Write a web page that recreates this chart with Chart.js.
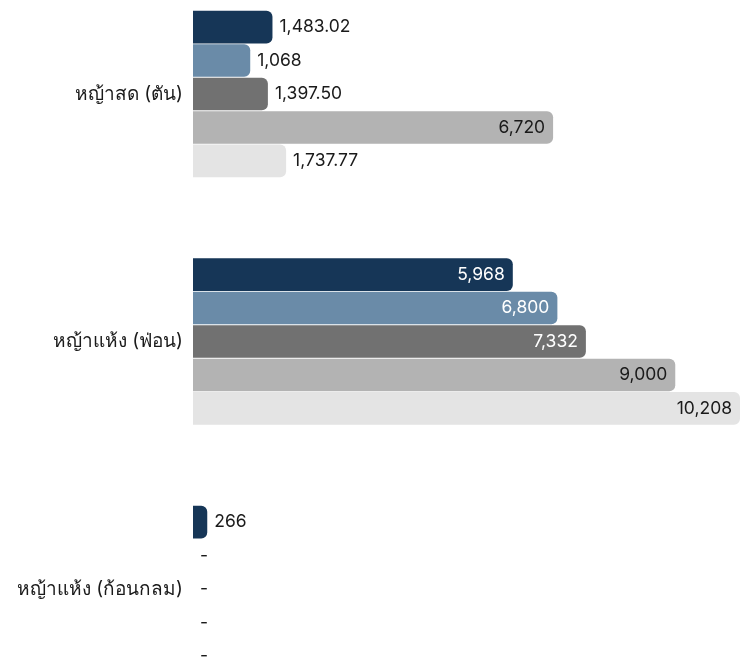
<!DOCTYPE html>
<html lang="th">
<head>
<meta charset="UTF-8"/>
<title>หญ้า</title>
<script src="https://cdn.jsdelivr.net/npm/chart.js@4.4.2/dist/chart.umd.min.js"></script>
<style>
html,body{margin:0;padding:0;background:#fff}
#wrap{width:740px;height:659px;position:relative}
</style>
</head>
<body>
<div id="wrap"><canvas id="chart"></canvas></div>
<script>
const categories=["หญ้าสด (ตัน)","หญ้าแห้ง (ฟ่อน)","หญ้าแห้ง (ก้อนกลม)"];
const series1=[1483.02,5968,266];
const series2=[1068,6800,null];
const series3=[1397.5,7332,null];
const series4=[6720,9000,null];
const series5=[1737.77,10208,null];
const colors=["#163657","#6a8ba8","#717171","#b3b3b3","#e4e4e4"];
const insideText=["#ffffff","#ffffff","#ffffff","#1a1a1a","#1a1a1a"];
const FONT="Inter, 'Noto Sans', sans-serif";

const fmt=v=>v.toLocaleString("en-US",Number.isInteger(v)?{maximumFractionDigits:0}:{minimumFractionDigits:2,maximumFractionDigits:2});

const valueLabels={
  id:"valueLabels",
  afterDatasetsDraw(chart){
    const ctx=chart.ctx, area=chart.chartArea;
    ctx.save();
    ctx.font="17.5px "+FONT;
    ctx.textBaseline="middle";
    chart.data.datasets.forEach((ds,di)=>{
      chart.getDatasetMeta(di).data.forEach((bar,i)=>{
        const v=ds.data[i];
        if(v==null){
          ctx.fillStyle="#1a1a1a";ctx.textAlign="left";
          ctx.fillText("-",area.left+7,bar.y);
          return;
        }
        if(v>=5000){
          ctx.fillStyle=insideText[di];ctx.textAlign="right";
          ctx.fillText(fmt(v),bar.x-8,bar.y);
        }else{
          ctx.fillStyle="#1a1a1a";ctx.textAlign="left";
          ctx.fillText(fmt(v),bar.x+7,bar.y);
        }
      });
    });
    ctx.restore();
  }
};

const all=[series1,series2,series3,series4,series5];
new Chart(document.getElementById("chart"),{
  type:"bar",
  data:{
    labels:categories,
    datasets:all.map((d,i)=>({data:d,backgroundColor:colors[i],borderRadius:6,borderSkipped:"start",clip:false}))
  },
  options:{
    indexAxis:"y",
    responsive:true,maintainAspectRatio:false,animation:false,
    categoryPercentage:0.676,barPercentage:0.975,
    layout:{padding:{top:94,bottom:70,right:0,left:0}},
    plugins:{legend:{display:false},tooltip:{enabled:false}},
    scales:{
      x:{display:false,min:0,max:10208},
      y:{offset:false,grid:{display:false},border:{display:false},
        ticks:{color:"#1a1a1a",font:{size:19,family:FONT},padding:2},
        afterFit:s=>{s.width=193;}}
    }
  },
  plugins:[valueLabels]
});
</script>
</body>
</html>
